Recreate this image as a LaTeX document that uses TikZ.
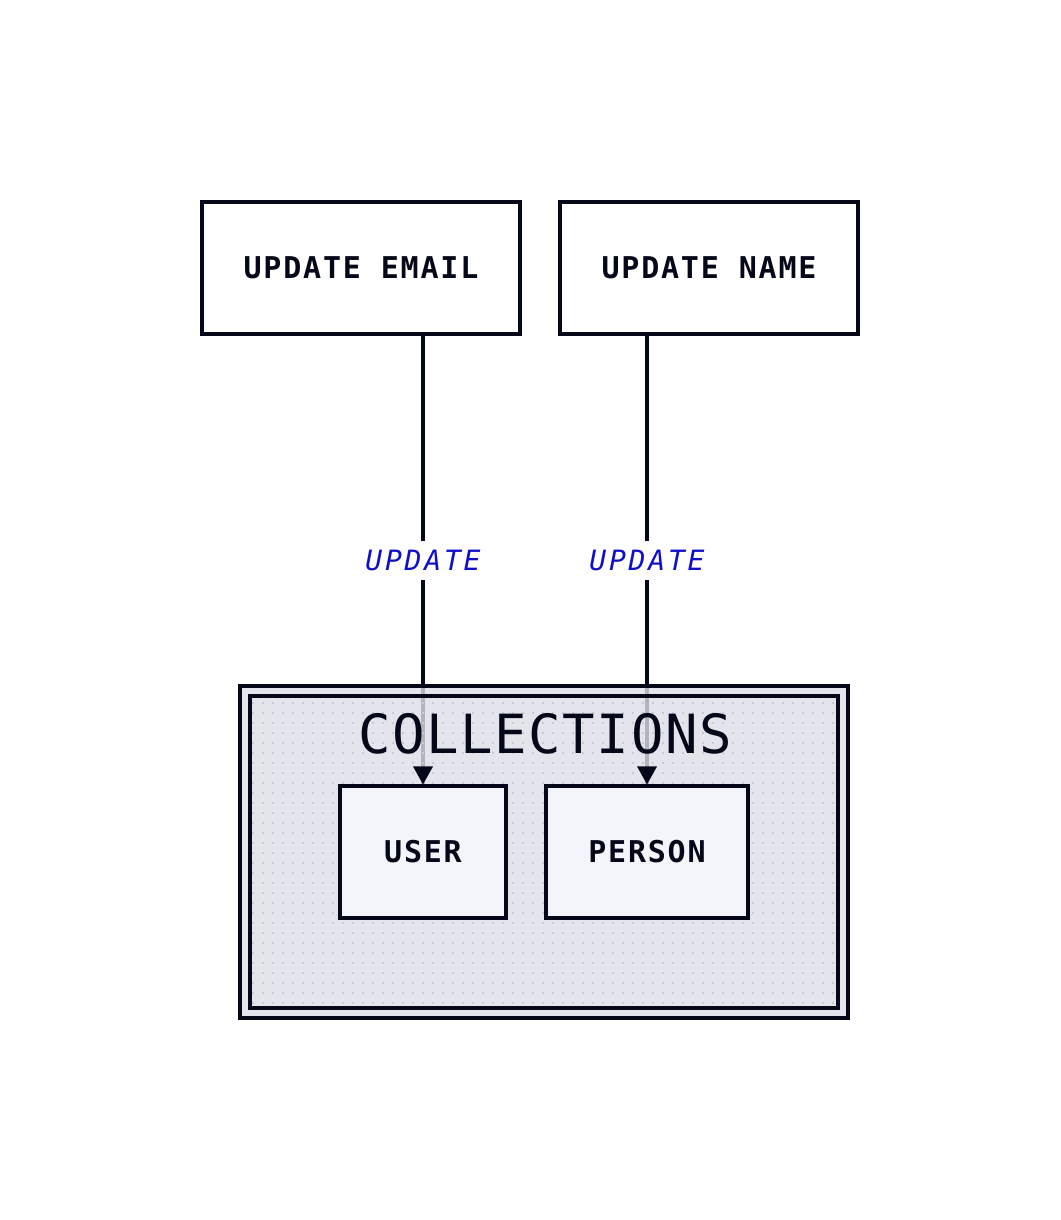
\documentclass[tikz,border=0pt]{standalone}
\usepackage{fontspec}
\setmonofont{DejaVu Sans Mono}
\newfontfamily\boxfont[LetterSpace=6]{DejaVu Sans Mono Bold}
\newfontfamily\edgefont[LetterSpace=10]{DejaVu Sans Mono Oblique}
\newfontfamily\titlefont[LetterSpace=3]{DejaVu Sans Mono}
\usepackage{tikz}

\definecolor{ink}{RGB}{5,8,25}
\definecolor{edgeblue}{RGB}{15,15,200}
\definecolor{collgray}{RGB}{221,223,231}
\definecolor{boxfill}{RGB}{244,245,250}
\definecolor{dotgray}{RGB}{200,203,211}

\begin{document}
\begin{tikzpicture}[x=1pt, y=-1pt,
		opbox/.style={draw=ink, line width=3.2pt, fill=white, minimum height=132pt,
			inner sep=0pt, font=\boxfont\fontsize{30}{31}\selectfont, text=ink},
		collbox/.style={opbox, fill=boxfill},
		conn/.style={draw=ink, line width=3.2pt},
		lbl/.style={fill=white, inner xsep=6pt, inner ysep=9pt, text=edgeblue,
			font=\edgefont\fontsize{28}{29}\selectfont},
		dotrow/.style={draw=dotgray, line width=2pt, dash pattern=on 2pt off 8pt}]
			\useasboundingbox (0,0) rectangle (1060,1220);
			% operations
			\node[opbox, minimum width=318pt] (upemail) at (361,268) {UPDATE EMAIL};
			\node[opbox, minimum width=298pt] (upname) at (709,268) {UPDATE NAME};
			% collections
			\coordinate (user) at (423,852);
			\coordinate (person) at (647,852);
			\coordinate (usertop) at (423,786);
			\coordinate (persontop) at (647,786);
			\draw[conn] (upemail.south -| usertop) -- node[lbl] (lblemail) {UPDATE} (usertop);
			\draw[conn] (upname.south -| persontop) -- node[lbl] (lblname) {UPDATE} (persontop);
			\filldraw[draw=ink, line width=3.2pt, fill=collgray, fill opacity=0.8]
				(240,686) rectangle (848,1018);
			\draw[ink, line width=3.2pt] (250,696) rectangle (838,1008);
			\foreach \y in {703, 713, ..., 1003}
			{
				\draw[dotrow] (252,\y) -- (836,\y);
			}
			\node[text=ink, font=\titlefont\fontsize{54}{56}\selectfont] (colltitle) at (545,734) {COLLECTIONS};
			\node[collbox, minimum width=166pt] (userbox) at (user) {USER};
			\node[collbox, minimum width=202pt] (personbox) at (person) {PERSON};
			% arrow heads
			\fill[ink] (userbox.north) -- ++(-10,-18) -- ++(20,0) -- cycle;
			\fill[ink] (personbox.north) -- ++(-10,-18) -- ++(20,0) -- cycle;
		\end{tikzpicture}
\end{document}
